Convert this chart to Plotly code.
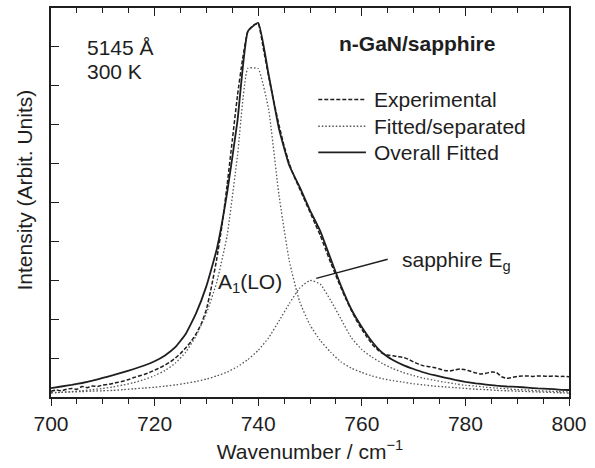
import plotly.graph_objects as go

# ---------------- data ----------------
wn_fit = list(range(700, 801, 2))

a1_lo = [0.10, 0.12, 0.14, 0.16, 0.19, 0.22, 0.26, 0.31, 0.37, 0.45,
         0.55, 0.68, 0.87, 1.15, 1.57, 2.15, 2.95, 4.15, 6.20, 8.45,
         8.44, 7.40, 5.20, 3.50, 2.45, 1.85, 1.45, 1.15, 0.90, 0.74,
         0.63, 0.54, 0.47, 0.42, 0.38, 0.34, 0.31, 0.28, 0.26, 0.24,
         0.22, 0.20, 0.19, 0.17, 0.16, 0.15, 0.14, 0.13, 0.12, 0.11, 0.10]

sapphire_eg = [0.12, 0.12, 0.13, 0.14, 0.15, 0.16, 0.17, 0.19, 0.21, 0.23,
               0.25, 0.28, 0.31, 0.35, 0.40, 0.46, 0.54, 0.64, 0.78, 0.96,
               1.20, 1.52, 1.95, 2.40, 2.80, 3.00, 2.90, 2.48, 2.00, 1.52,
               1.22, 1.02, 0.86, 0.73, 0.63, 0.55, 0.48, 0.43, 0.38, 0.34,
               0.30, 0.28, 0.25, 0.23, 0.21, 0.19, 0.18, 0.16, 0.15, 0.14, 0.13]

overall_fit = [0.23, 0.27, 0.31, 0.36, 0.42, 0.49, 0.56, 0.64, 0.72, 0.81,
               0.92, 1.07, 1.28, 1.62, 2.15, 2.85, 3.80, 5.25, 7.10, 9.40,
               9.62, 8.30, 6.90, 5.95, 5.40, 4.80, 4.26, 3.55, 2.85, 2.25,
               1.80, 1.42, 1.13, 0.95, 0.82, 0.72, 0.63, 0.56, 0.50, 0.44,
               0.39, 0.35, 0.32, 0.29, 0.27, 0.26, 0.24, 0.22, 0.21, 0.19, 0.18]

wn_exp = list(range(700, 801, 1))
experimental = [0.15, 0.18, 0.16, 0.20, 0.22, 0.20, 0.27, 0.24, 0.28, 0.27,
                0.31, 0.32, 0.35, 0.38, 0.41, 0.45, 0.50, 0.54, 0.58, 0.63,
                0.69, 0.75, 0.82, 0.90, 1.00, 1.12, 1.26, 1.42, 1.62, 1.88,
                2.25, 2.85, 3.55, 4.40, 5.45, 6.60, 7.75, 8.70, 9.40, 9.55,
                9.60, 8.95, 8.25, 7.60, 7.00, 6.45, 6.00, 5.65, 5.35, 5.05,
                4.75, 4.45, 4.15, 3.80, 3.45, 3.12, 2.80, 2.50, 2.22, 1.96,
                1.74, 1.54, 1.36, 1.22, 1.12, 1.08, 1.06, 1.04, 1.02, 0.97,
                0.90, 0.84, 0.80, 0.78, 0.76, 0.72, 0.68, 0.67, 0.70, 0.72,
                0.70, 0.66, 0.62, 0.59, 0.61, 0.64, 0.63, 0.52, 0.48, 0.50,
                0.53, 0.54, 0.54, 0.53, 0.54, 0.54, 0.53, 0.54, 0.53, 0.53, 0.52]

x_ticks = [700, 720, 740, 760, 780, 800]
y_ticks = [1, 2, 3, 4, 5, 6, 7, 8, 9]

legend_labels = ["Experimental", "Fitted/separated", "Overall Fitted"]

FONT = "Liberation Sans, Arial, Helvetica, sans-serif"
INK = "#1e1e1e"
GREY = "#555555"
DASH_EXP = "4px,2px"
DASH_FIT = "1.5px,2px"

styles = [dict(color=INK, width=1.5, dash=DASH_EXP),
          dict(color=GREY, width=1.3, dash=DASH_FIT),
          dict(color=INK, width=1.8, dash="solid")]

fig = go.Figure()
fig.add_trace(go.Scatter(x=wn_exp, y=experimental, mode="lines", name=legend_labels[0],
                         line=dict(**styles[0], shape="spline", smoothing=0.4)))
fig.add_trace(go.Scatter(x=wn_fit, y=a1_lo, mode="lines", name=legend_labels[1],
                         line=dict(**styles[1], shape="spline", smoothing=0.4)))
fig.add_trace(go.Scatter(x=wn_fit, y=sapphire_eg, mode="lines", name="sapphire",
                         line=dict(**styles[1], shape="spline", smoothing=0.4)))
fig.add_trace(go.Scatter(x=wn_fit, y=overall_fit, mode="lines", name=legend_labels[2],
                         line=dict(**styles[2], shape="spline", smoothing=0.4)))
# dummy trace so that the top (inside-tick) axis is drawn
fig.add_trace(go.Scatter(x=[None], y=[None], xaxis="x2", showlegend=False, hoverinfo="skip"))

fig.update_layout(
    width=595, height=468,
    margin=dict(l=51, r=19, t=8, b=69),
    paper_bgcolor="white", plot_bgcolor="white",
    font=dict(family=FONT, size=21, color=INK),
    showlegend=False,
    xaxis=dict(range=[700, 800], tickmode="array", tickvals=x_ticks,
               ticks="outside", ticklen=7, tickwidth=1.3, tickcolor=INK,
               minor=dict(dtick=5, tick0=700, ticks="outside", ticklen=5, tickwidth=1.2, tickcolor=INK),
               showline=True, linecolor=INK, linewidth=1.5, mirror=False,
               showgrid=False, zeroline=False,
               tickfont=dict(size=21, color=INK),
               title=dict(text="Wavenumber / cm<sup>\u22121</sup>", font=dict(size=21, color=INK),
                          standoff=10)),
    xaxis2=dict(range=[700, 800], overlaying="x", side="top", anchor="y",
                tickmode="array", tickvals=x_ticks, showticklabels=False,
                ticks="inside", ticklen=8, tickwidth=1.3, tickcolor=INK,
                minor=dict(dtick=5, tick0=700, ticks="inside", ticklen=5, tickwidth=1.2, tickcolor=INK),
                showline=True, linecolor=INK, linewidth=1.5,
                showgrid=False, zeroline=False),
    yaxis=dict(range=[0, 10], tickmode="array", tickvals=y_ticks, showticklabels=False,
               ticks="inside", ticklen=8, tickwidth=1.3, tickcolor=INK,
               showline=True, linecolor=INK, linewidth=1.5, mirror=True,
               showgrid=False, zeroline=False),
)

# y-axis title (placed as rotated text, slightly above the axis centre as in the reference)
fig.add_annotation(x=-0.052, y=0.531, xref="paper", yref="paper", text="Intensity (Arbit. Units)",
                   textangle=-90, showarrow=False, xanchor="center", yanchor="middle",
                   font=dict(size=21, color=INK))

# legend drawn as line samples + text
leg_y = [0.765, 0.696, 0.629]
for lab, st, yy in zip(legend_labels, styles, leg_y):
    fig.add_shape(type="line", xref="paper", yref="paper", x0=0.516, x1=0.608, y0=yy, y1=yy,
                  line=dict(color=st["color"], width=st["width"], dash=st["dash"]))
    fig.add_annotation(x=0.619, y=yy, xref="paper", yref="paper", text=lab, showarrow=False,
                       xanchor="left", yanchor="middle", font=dict(size=21, color=INK))

# text annotations
fig.add_annotation(x=706.6, y=8.99, text="5145 \u00c5", showarrow=False,
                   xanchor="left", yanchor="middle", font=dict(size=21, color=INK))
fig.add_annotation(x=706.6, y=8.37, text="300 K", showarrow=False,
                   xanchor="left", yanchor="middle", font=dict(size=21, color=INK))
fig.add_annotation(x=755.3, y=9.1, text="<b>n-GaN/sapphire</b>", showarrow=False,
                   xanchor="left", yanchor="middle", font=dict(size=21, color=INK))
fig.add_annotation(x=738.5, y=2.92, text="A<sub>1</sub>(LO)", showarrow=False,
                   xanchor="center", yanchor="middle", font=dict(size=21, color=INK))
fig.add_annotation(x=767.4, y=3.5, text="sapphire E<sub>g</sub>", showarrow=False,
                   xanchor="left", yanchor="middle", font=dict(size=21, color=INK))
# leader line for the sapphire label
fig.add_shape(type="line", x0=751.2, y0=3.05, x1=765.0, y1=3.54,
              line=dict(color=INK, width=1.5))

fig.write_html("out.html")
